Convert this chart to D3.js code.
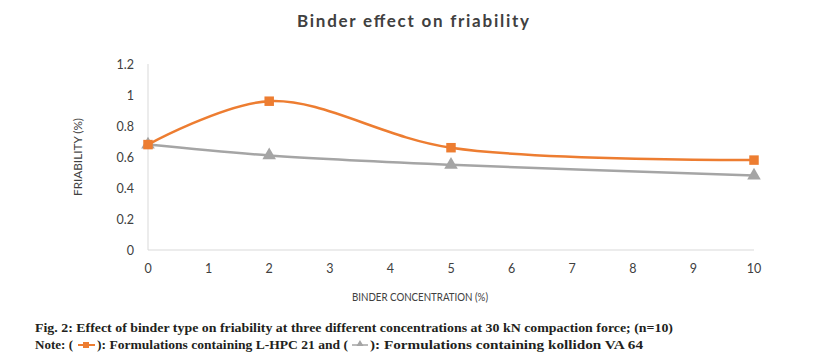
<!DOCTYPE html>
<html>
<head>
<meta charset="utf-8">
<script src="https://cdn.jsdelivr.net/npm/d3@7"></script>
<style>
  body { margin: 0; background: #fff; }
  svg { display: block; }
</style>
</head>
<body>
<div id="chart"></div>
<script>
// binder concentrations (%)
const concentrations = [0, 2, 5, 10];
// friability (%) for each binder
const lhpcValues = [0.68, 0.96, 0.66, 0.58];
const kollidonValues = [0.68, 0.61, 0.55, 0.48];
const xTicks = [0, 1, 2, 3, 4, 5, 6, 7, 8, 9, 10];
const yTicks = [0, 0.2, 0.4, 0.6, 0.8, 1, 1.2];

const width = 838, height = 363;
const margin = {top: 64, right: 84, bottom: 113, left: 148};

const svg = d3.select("#chart").append("svg")
  .attr("width", width)
  .attr("height", height);

const x = d3.scaleLinear().domain([0, 10]).range([margin.left, width - margin.right]);
const y = d3.scaleLinear().domain([0, 1.2]).range([height - margin.bottom, margin.top]);

const font = "Lato, 'Open Sans', sans-serif";

// Title
svg.append("text")
  .attr("x", 413)
  .attr("y", 27)
  .attr("text-anchor", "middle")
  .attr("textLength", 232)
  .attr("lengthAdjust", "spacing")
  .style("font-family", font)
  .style("font-size", "17px")
  .style("font-weight", "bold")
  .style("fill", "#404040")
  .text("Binder effect on friability");

// Axes lines (light gray)
svg.append("line")
  .attr("x1", x(0)).attr("x2", x(0))
  .attr("y1", y(1.2)).attr("y2", y(0))
  .attr("stroke", "#d9d9d9");
svg.append("line")
  .attr("x1", x(0)).attr("x2", x(10))
  .attr("y1", y(0)).attr("y2", y(0))
  .attr("stroke", "#d9d9d9");

// Y tick labels
svg.selectAll(".ytick")
  .data(yTicks)
  .join("text")
    .attr("x", 134)
    .attr("y", d => y(d) + 4.5)
    .attr("text-anchor", "end")
    .style("font-family", font)
    .style("font-size", "12.5px")
    .style("fill", "#404040")
    .text(d => d);

// X tick labels
svg.selectAll(".xtick")
  .data(xTicks)
  .join("text")
    .attr("x", d => x(d))
    .attr("y", 273)
    .attr("text-anchor", "middle")
    .style("font-family", font)
    .style("font-size", "12.5px")
    .style("fill", "#404040")
    .text(d => d);

// Axis titles
svg.append("text")
  .attr("transform", `translate(82, ${y(0.6)}) rotate(-90)`)
  .attr("text-anchor", "middle")
  .attr("textLength", 78)
  .attr("lengthAdjust", "spacingAndGlyphs")
  .style("font-family", font)
  .style("font-size", "12px")
  .style("fill", "#404040")
  .text("FRIABILITY (%)");

svg.append("text")
  .attr("x", 420)
  .attr("y", 301)
  .attr("text-anchor", "middle")
  .attr("textLength", 136)
  .attr("lengthAdjust", "spacingAndGlyphs")
  .style("font-family", font)
  .style("font-size", "12px")
  .style("fill", "#404040")
  .text("BINDER CONCENTRATION (%)");

// Smoothed lines like Excel
const line = d3.line()
  .x(d => x(d[0]))
  .y(d => y(d[1]))
  .curve(d3.curveCatmullRom.alpha(0.5));

const series = [
  {values: kollidonValues, color: "#a5a5a5", marker: "triangle"},
  {values: lhpcValues, color: "#ed7d31", marker: "square"}
];

series.forEach(s => {
  const pts = concentrations.map((c, i) => [c, s.values[i]]);
  svg.append("path")
    .datum(pts)
    .attr("fill", "none")
    .attr("stroke", s.color)
    .attr("stroke-width", 2.5)
    .attr("d", line);

  const sym = s.marker === "square" ? d3.symbolSquare : d3.symbolTriangle;
  svg.selectAll(null)
    .data(pts)
    .join("path")
      .attr("transform", d => `translate(${x(d[0])},${y(d[1])})`)
      .attr("d", d3.symbol().type(sym).size(s.marker === "square" ? 90 : 80))
      .attr("fill", s.color);
});

// Caption
const capFont = "'Liberation Serif', 'DejaVu Serif', serif";
svg.append("text")
  .attr("x", 35)
  .attr("y", 332)
  .attr("textLength", 638)
  .attr("lengthAdjust", "spacingAndGlyphs")
  .style("font-family", capFont)
  .style("font-size", "13px")
  .style("font-weight", "bold")
  .style("fill", "#231f20")
  .text("Fig. 2: Effect of binder type on friability at three different concentrations at 30 kN compaction force; (n=10)");

// Note line with inline legend symbols
const note = svg.append("g").style("font-family", capFont)
  .style("font-size", "13px").style("font-weight", "bold").style("fill", "#231f20");

note.append("text").attr("x", 35).attr("y", 349)
  .attr("textLength", 38).attr("lengthAdjust", "spacingAndGlyphs").text("Note: (");
// orange legend
note.append("line").attr("x1", 78).attr("x2", 95).attr("y1", 345).attr("y2", 345)
  .attr("stroke", "#ed7d31").attr("stroke-width", 2);
note.append("rect").attr("x", 83).attr("y", 342).attr("width", 6).attr("height", 6)
  .attr("fill", "#ed7d31");
note.append("text").attr("x", 97).attr("y", 349)
  .attr("textLength", 251).attr("lengthAdjust", "spacingAndGlyphs")
  .text("): Formulations containing L-HPC 21 and (");
// gray legend
note.append("line").attr("x1", 352).attr("x2", 368).attr("y1", 345).attr("y2", 345)
  .attr("stroke", "#a5a5a5").attr("stroke-width", 1.5);
note.append("path").attr("transform", "translate(360,344)")
  .attr("d", d3.symbol().type(d3.symbolTriangle).size(22)).attr("fill", "#a5a5a5");
note.append("text").attr("x", 370).attr("y", 349)
  .attr("textLength", 273).attr("lengthAdjust", "spacingAndGlyphs")
  .text("): Formulations containing kollidon VA 64");
</script>
</body>
</html>
